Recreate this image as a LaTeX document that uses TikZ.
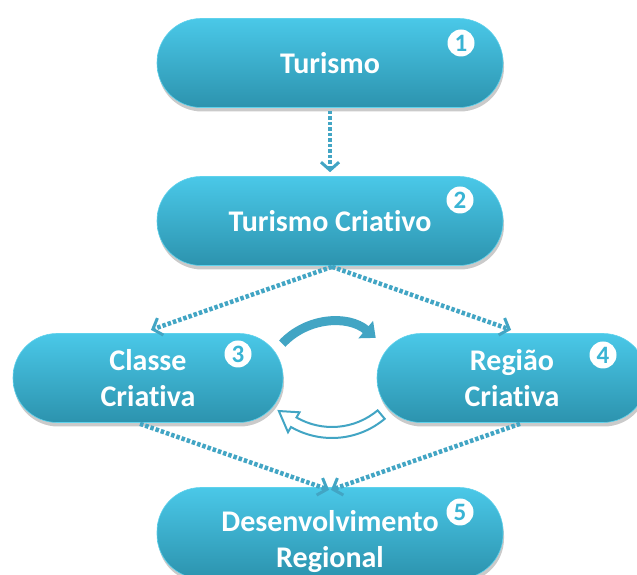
\documentclass[tikz,border=0pt]{standalone}
\usepackage{fontspec}
\setmainfont{Carlito}[Ligatures=NoCommon]
\usetikzlibrary{arrows.meta,shadows}
\definecolor{tealA}{RGB}{74,200,232}
\definecolor{tealB}{RGB}{44,147,174}
\definecolor{tealC}{RGB}{58,180,212}
\definecolor{arr}{RGB}{66,165,196}
\definecolor{rim}{RGB}{95,210,236}
\tikzset{
  nodebox/.style={rectangle, rounded corners=44pt, top color=tealA, bottom color=tealB,
    draw=rim, line width=0.6pt, inner sep=0pt, minimum height=89pt,
    text=white, font=\fontsize{30}{36}\selectfont\bfseries, align=center,
    drop shadow={shadow xshift=1pt, shadow yshift=-4pt, opacity=.35, fill=black!60}},
  badge/.style={circle, fill=white, minimum size=27pt, inner sep=0pt,
    text=tealC, font=\fontsize{25}{25}\selectfont\bfseries},
  dotarrow/.style={arr, line width=4.5pt, dash pattern=on 3.5pt off 2pt,
    -{Straight Barb[length=8pt,width=18pt,line width=3pt]}, shorten >=1pt},
  labeltext/.style={text=white, font=\fontsize{30}{36}\selectfont\bfseries, align=center},
}
\begin{document}
\begin{tikzpicture}[x=1pt,y=1pt]
\useasboundingbox (0,0) rectangle (637,575);
% nodes
\node[nodebox, minimum width=346pt] (n1) at (330,512) {Turismo};
\node[nodebox, minimum width=346pt] (n2) at (330,354) {Turismo Criativo};
\node[nodebox, minimum width=270pt] (n3) at (148,197) {Classe\\Criativa};
\node[nodebox, minimum width=270pt] (n4) at (512,197) {Região\\Criativa};
\node[nodebox, minimum width=346pt, minimum height=91pt] (n5) at (330,42) {};
\node[labeltext] (t5) at (330,33) {Desenvolvimento\\Regional};
% badges
\node[badge] (b1) at (461,532) {1};
\node[badge] (b2) at (460,375) {2};
\node[badge] (b3) at (238,221) {3};
\node[badge] (b4) at (603,220) {4};
\node[badge] (b5) at (460,63) {5};
% dotted connectors
\draw[dotarrow] ([yshift=-3pt]n1.south) -- ([yshift=3pt]n2.north);
\draw[dotarrow] ([xshift=2pt,yshift=-1pt]n2.south) -- ([xshift=2pt,yshift=3pt]n3.north);
\draw[dotarrow] ([xshift=2pt,yshift=-1pt]n2.south) -- ([yshift=3pt]n4.north);
\draw[dotarrow] ([xshift=-8pt,yshift=-1pt]n3.south) -- ([yshift=-3pt]n5.north);
\draw[dotarrow] ([xshift=8pt,yshift=-1pt]n4.south) -- ([yshift=-3pt]n5.north);
% cycle arrows
\begin{scope}[shift={(332,185)}]
  \draw[arr, line width=9pt, -{Triangle[length=13pt,width=22pt]}]
    (137:68) arc[start angle=137, end angle=50, radius=68];
\end{scope}
\begin{scope}[shift={(332,219)}]
  \draw[arr, line width=2pt, fill=white, line join=miter]
    (-50:82) arc[start angle=-50, end angle=-120, radius=82]
    -- (-120:88) -- (-134:76.5) -- (-120:65) -- (-120:71)
    arc[start angle=-120, end angle=-50, radius=71] -- cycle;
\end{scope}
\end{tikzpicture}
\end{document}
